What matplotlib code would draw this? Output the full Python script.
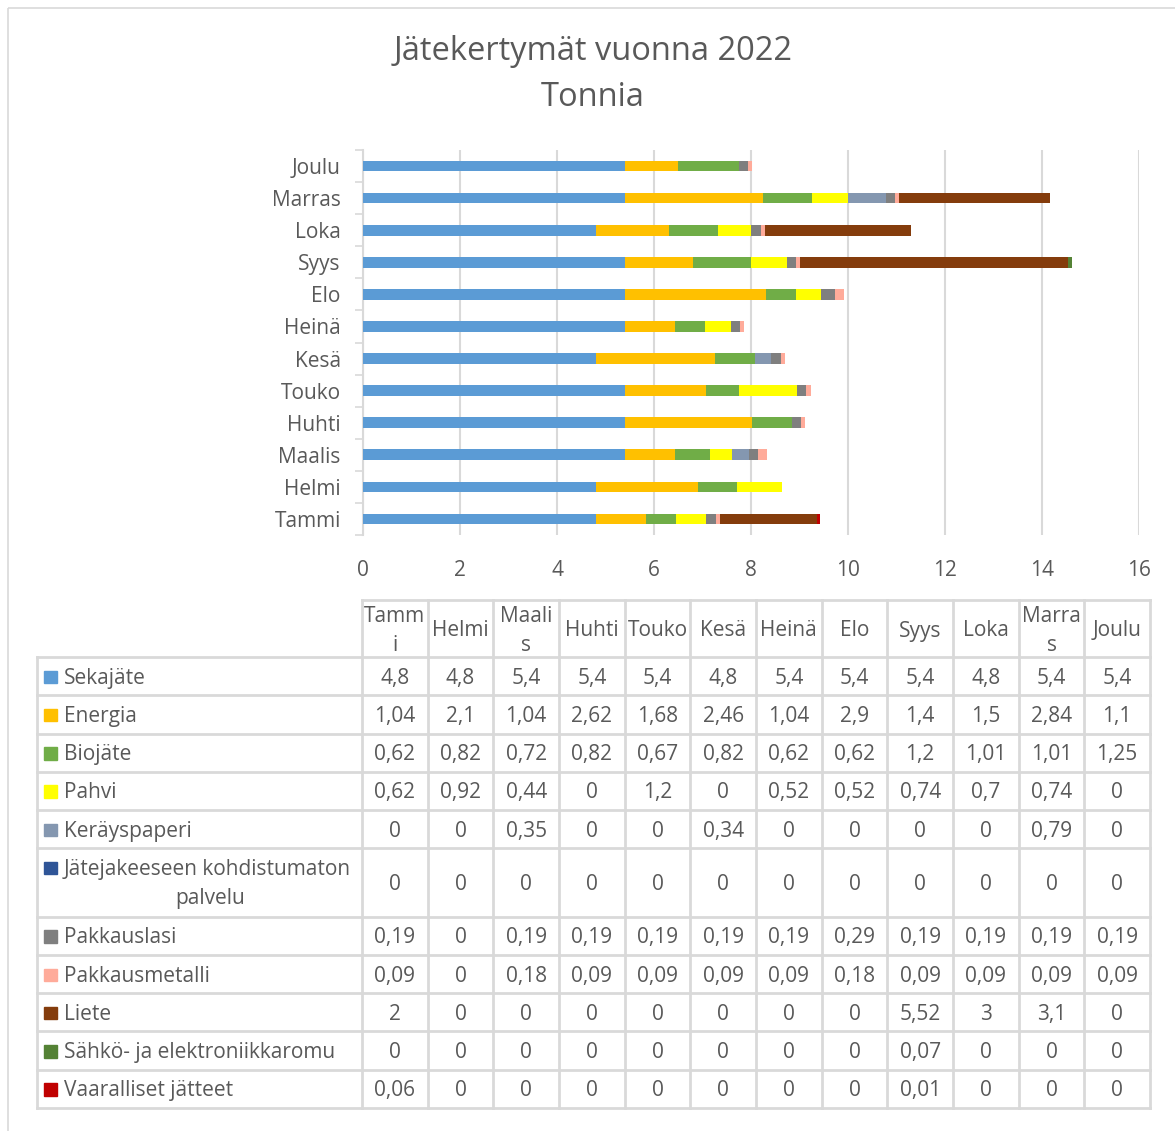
import matplotlib
matplotlib.use("Agg")
import matplotlib.pyplot as plt
import numpy as np
from matplotlib.patches import Rectangle

plt.rcParams["font.family"] = ["Open Sans", "DejaVu Sans"]

TXT = "#595959"
GRID = "#d9d9d9"
FS = 15

months = ["Tammi", "Helmi", "Maalis", "Huhti", "Touko", "Kesä",
          "Heinä", "Elo", "Syys", "Loka", "Marras", "Joulu"]
header_labels = ["Tamm\ni", "Helmi", "Maali\ns", "Huhti", "Touko", "Kesä",
                 "Heinä", "Elo", "Syys", "Loka", "Marra\ns", "Joulu"]

sekajate = [4.8, 4.8, 5.4, 5.4, 5.4, 4.8, 5.4, 5.4, 5.4, 4.8, 5.4, 5.4]
energia = [1.04, 2.1, 1.04, 2.62, 1.68, 2.46, 1.04, 2.9, 1.4, 1.5, 2.84, 1.1]
biojate = [0.62, 0.82, 0.72, 0.82, 0.67, 0.82, 0.62, 0.62, 1.2, 1.01, 1.01, 1.25]
pahvi = [0.62, 0.92, 0.44, 0, 1.2, 0, 0.52, 0.52, 0.74, 0.7, 0.74, 0]
kerayspaperi = [0, 0, 0.35, 0, 0, 0.34, 0, 0, 0, 0, 0.79, 0]
kohdistumaton = [0, 0, 0, 0, 0, 0, 0, 0, 0, 0, 0, 0]
pakkauslasi = [0.19, 0, 0.19, 0.19, 0.19, 0.19, 0.19, 0.29, 0.19, 0.19, 0.19, 0.19]
pakkausmetalli = [0.09, 0, 0.18, 0.09, 0.09, 0.09, 0.09, 0.18, 0.09, 0.09, 0.09, 0.09]
liete = [2, 0, 0, 0, 0, 0, 0, 0, 5.52, 3, 3.1, 0]
sahko = [0, 0, 0, 0, 0, 0, 0, 0, 0.07, 0, 0, 0]
vaaralliset = [0.06, 0, 0, 0, 0, 0, 0, 0, 0.01, 0, 0, 0]

series = [
    ("Sekajäte", sekajate, "#5B9BD5"),
    ("Energia", energia, "#FFC000"),
    ("Biojäte", biojate, "#70AD47"),
    ("Pahvi", pahvi, "#FFFF00"),
    ("Keräyspaperi", kerayspaperi, "#8497B0"),
    ("Jätejakeeseen kohdistumaton\npalvelu", kohdistumaton, "#2F5597"),
    ("Pakkauslasi", pakkauslasi, "#7F7F7F"),
    ("Pakkausmetalli", pakkausmetalli, "#FFAB9A"),
    ("Liete", liete, "#843C0C"),
    ("Sähkö- ja elektroniikkaromu", sahko, "#548235"),
    ("Vaaralliset jätteet", vaaralliset, "#C00000"),
]

W, H = 1175, 1131
fig = plt.figure(figsize=(W / 100, H / 100), dpi=100)

# overlay axes in pixel coordinates for frame, title and data table
ov = fig.add_axes([0, 0, 1, 1])
ov.set_xlim(0, W)
ov.set_ylim(H, 0)
ov.axis("off")
ov.add_patch(Rectangle((8, 8), W, H, fill=False, ec=GRID, lw=1.2))
ov.text(593, 51, "Jätekertymät vuonna 2022", ha="center", va="center",
        fontsize=23.5, color=TXT)
ov.text(593, 97, "Tonnia", ha="center", va="center", fontsize=23.5, color=TXT)

# bar chart
ax = fig.add_axes([363 / W, 1 - 535 / H, (1139 - 363) / W, (535 - 150) / H])
y = np.arange(len(months))
left = np.zeros(len(months))
for name, vals, col in series:
    vals = np.array(vals, dtype=float)
    ax.barh(y, vals, left=left, height=0.33, color=col, zorder=3)
    left += vals
ax.set_xlim(0, 16)
ax.set_ylim(-0.5, len(months) - 0.5)
ax.set_xticks(np.arange(0, 17, 2))
ax.set_yticks(y)
ax.set_yticklabels(months)
ax.set_yticks(np.arange(-0.5, len(months), 1), minor=True)
ax.tick_params(axis="y", which="major", length=0, pad=16, labelsize=FS, labelcolor=TXT)
ax.tick_params(axis="y", which="minor", length=6, color=GRID, width=1.2)
ax.tick_params(axis="x", length=0, pad=18, labelsize=FS, labelcolor=TXT)
ax.grid(axis="x", color=GRID, lw=1.5, zorder=0)
for s in ["top", "right", "bottom"]:
    ax.spines[s].set_visible(False)
ax.spines["left"].set_color(GRID)
ax.spines["left"].set_linewidth(1.5)

# data table
col_edges = np.linspace(362, 1150, len(months) + 1)
row_h = [1, 1, 1, 1, 1, 1.78, 1, 1, 1, 1, 1]
unit = (1108 - 657) / sum(row_h)
row_edges = 657 + np.concatenate([[0], np.cumsum(row_h)]) * unit
lkw = dict(color=GRID, lw=2, zorder=1)

# header
ov.plot([362, 1150], [600, 600], **lkw)
for xe in col_edges:
    ov.plot([xe, xe], [600, row_edges[-1]], **lkw)
for i, lab in enumerate(header_labels):
    cx = (col_edges[i] + col_edges[i + 1]) / 2
    ov.text(cx, 631, lab, ha="center", va="center", fontsize=FS, color=TXT,
            linespacing=1.45)

# rows
ov.plot([37, 37], [row_edges[0], row_edges[-1]], **lkw)
for ye in row_edges:
    ov.plot([37, 1150], [ye, ye], **lkw)
for r, (name, vals, col) in enumerate(series):
    top, bot = row_edges[r], row_edges[r + 1]
    cy = (top + bot) / 2 + 2
    lines = name.split("\n")
    if len(lines) == 1:
        ly = cy
        ov.text(64, ly, name, ha="left", va="center", fontsize=FS, color=TXT)
    else:
        ly = top + 21
        ov.text(64, ly, lines[0], ha="left", va="center", fontsize=FS, color=TXT)
        ov.text(210, top + 50, lines[1], ha="center", va="center", fontsize=FS, color=TXT)
    ov.add_patch(Rectangle((44, ly - 7.5), 12.5, 12.5, color=col, zorder=2))
    for i, v in enumerate(vals):
        cx = (col_edges[i] + col_edges[i + 1]) / 2
        ov.text(cx, cy, f"{v:g}".replace(".", ","), ha="center", va="center",
                fontsize=FS, color=TXT)

fig.savefig("out.png", dpi=100)
